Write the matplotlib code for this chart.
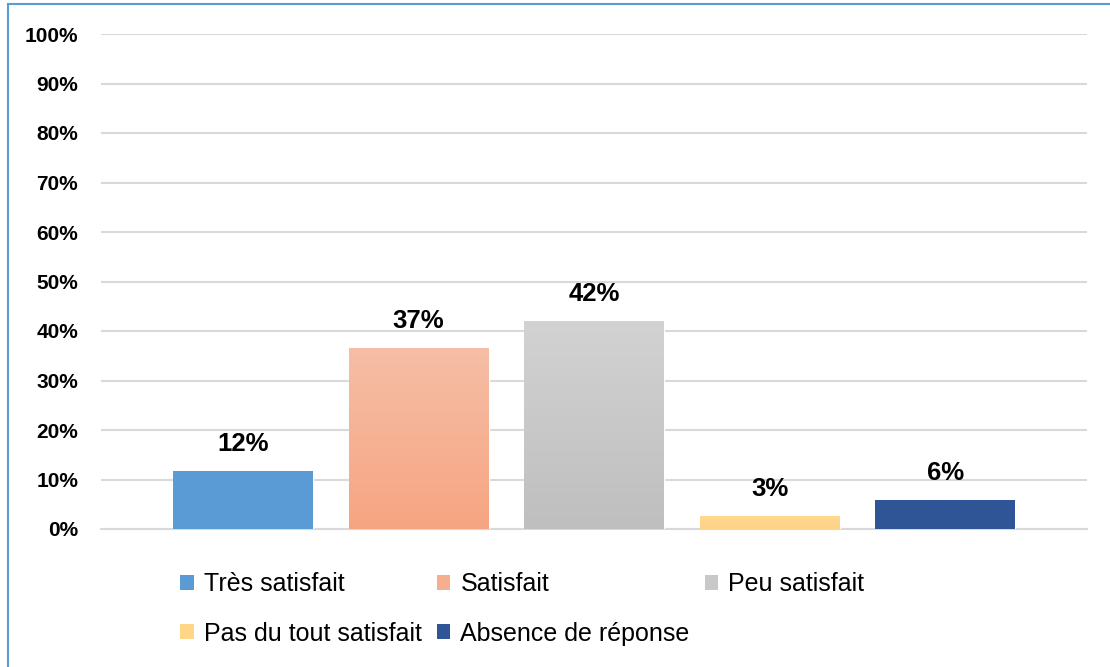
import matplotlib
matplotlib.use("Agg")
import matplotlib.pyplot as plt
import numpy as np
from matplotlib.patches import Rectangle
from matplotlib.lines import Line2D
from matplotlib.colors import LinearSegmentedColormap

categories = ["Très satisfait", "Satisfait", "Peu satisfait",
              "Pas du tout satisfait", "Absence de réponse"]
values = [0.118, 0.366, 0.421, 0.027, 0.058]
labels = ["12%", "37%", "42%", "3%", "6%"]
yticks = [0.0, 0.1, 0.2, 0.3, 0.4, 0.5, 0.6, 0.7, 0.8, 0.9, 1.0]
ytick_labels = ["0%", "10%", "20%", "30%", "40%", "50%", "60%", "70%", "80%", "90%", "100%"]

top_colors = ["#5B9BD5", "#F5BEA6", "#D2D2D2", "#FFD88F", "#2F5597"]
bot_colors = ["#5B9BD5", "#F7A582", "#BFBFBF", "#FFD386", "#2F5597"]
legend_colors = ["#5B9BD5", "#F5AE90", "#C8C8C8", "#FFD688", "#2F5597"]

plt.rcParams['font.family'] = ['Liberation Sans', 'DejaVu Sans']

fig = plt.figure(figsize=(11.10, 6.67), dpi=100)
ax = fig.add_axes([101/1110, 138/667, 986/1110, 495/667])

x = np.arange(len(categories))
width = 0.797
bars = ax.bar(x, values, width=width, color=bot_colors, edgecolor="white",
              linewidth=1.0, zorder=3)

for i, b in enumerate(bars):
    cmap = LinearSegmentedColormap.from_list("g%d" % i, [bot_colors[i], top_colors[i]])
    grad = np.linspace(0, 1, 64).reshape(-1, 1)
    x0, y0 = b.get_x(), b.get_y()
    im = ax.imshow(grad, cmap=cmap, origin="lower", aspect="auto",
                   extent=[x0, x0 + b.get_width(), y0, y0 + b.get_height()],
                   zorder=3.5)
    im.set_clip_path(b)
    ax.annotate(labels[i], (x[i], values[i]), xytext=(0, 14.4),
                textcoords="offset points", ha="center", va="baseline",
                fontsize=18.5, fontweight="bold", color="black", zorder=5)

ax.set_xlim(-0.809, 4.806)
ax.set_ylim(0, 1.0)
ax.set_yticks(yticks)
ax.set_yticklabels(ytick_labels, fontsize=15, fontweight="bold")
ax.set_xticks([])
ax.tick_params(axis="y", length=0, pad=16.5)
ax.yaxis.grid(True, color="#D9D9D9", linewidth=1.5, zorder=0)
ax.set_axisbelow(True)
for s in ["top", "right", "left"]:
    ax.spines[s].set_visible(False)
ax.spines["bottom"].set_color("#D9D9D9")
ax.spines["bottom"].set_linewidth(1.5)
ax.spines["bottom"].set_zorder(1)

handles = [Rectangle((0, 0), 1, 1, facecolor=c, edgecolor="none") for c in legend_colors]
order = [0, 3, 1, 4, 2]
leg = fig.legend([handles[i] for i in order], [categories[i] for i in order],
                 ncol=3, loc="upper left", bbox_to_anchor=(180/1110, 1 - 572/667),
                 frameon=False, fontsize=18, handlelength=0.55, handleheight=0.55,
                 handletextpad=0.4, columnspacing=0.6, labelspacing=1.03,
                 borderaxespad=0, borderpad=0)

# outer frame (left and top edges visible)
fig.add_artist(Line2D([8/1110, 8/1110], [0, 1 - 4/667], transform=fig.transFigure,
                      color="#5B9BD5", linewidth=1.5))
fig.add_artist(Line2D([8/1110, 1], [1 - 4/667, 1 - 4/667], transform=fig.transFigure,
                      color="#5B9BD5", linewidth=1.5))

fig.savefig("out.png", dpi=100)
